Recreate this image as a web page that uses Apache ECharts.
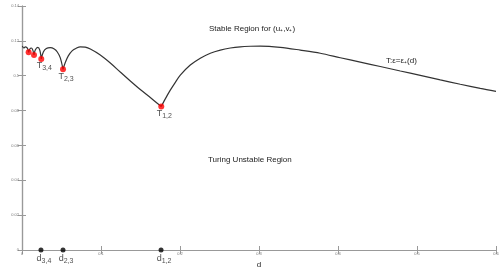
<!DOCTYPE html>
<html><head><meta charset="utf-8">
<script src="https://cdn.jsdelivr.net/npm/echarts@6/dist/echarts.min.js"></script>
<style>html,body{margin:0;padding:0;background:#fff}#c{width:503px;height:269px}</style>
</head><body><div id="c"></div>
<script>
// Curve T: eps = eps*(d)
const curveD = [0.0004,0.0023,0.0042,0.0061,0.0073,0.0084,0.0099,0.0118,0.0137,0.0152,0.0168,0.0200,0.0225,0.0244,
  0.0270,0.0308,0.0358,0.0409,0.0447,0.0485,0.0519,
  0.0548,0.0586,0.0637,0.0687,0.0738,0.0801,0.0865,0.0991,0.1118,0.1244,0.1371,0.1497,0.1624,0.1763,
  0.1814,0.1877,0.1941,0.2004,0.2130,0.2257,0.2384,0.2510,0.2637,0.2763,0.2890,0.3016,0.3269,0.3523,0.3776,0.4029,
  0.4282,0.4535,0.4789,0.5042,0.5295,0.5548,0.5801,0.6000];
const curveE = [0.1170,0.1159,0.1165,0.1162,0.1153,0.1134,0.1153,0.1159,0.1147,0.1119,0.1148,0.1163,0.1147,0.1096,
  0.1136,0.1156,0.1161,0.1153,0.1136,0.1102,0.1037,
  0.1076,0.1114,0.1144,0.1158,0.1166,0.1164,0.1153,0.1119,0.1073,0.1021,0.0970,0.0921,0.0875,0.0823,
  0.0867,0.0917,0.0962,0.1003,0.1061,0.1100,0.1129,0.1147,0.1159,0.1166,0.1169,0.1170,0.1163,0.1147,0.1129,0.1103,
  0.1078,0.1053,0.1027,0.1002,0.0976,0.0951,0.0927,0.0910];
// Cusp points (red) and their labels
const cuspD = [0.0084,0.0152,0.0244,0.0519,0.1763];
const cuspE = [0.1134,0.1119,0.1096,0.1037,0.0823];
const cuspLabels = ['','','3,4','2,3','1,2'];
// Critical d values (black dots on axis)
const critD = [0.0240,0.0519,0.1760];
const critLabels = ['3,4','2,3','1,2'];
const xTicks = [0,0.1,0.2,0.3,0.4,0.5,0.6];
const yTicks = [0,0.02,0.04,0.06,0.08,0.1,0.12,0.14];

// build line data, breaking at cusps so each arc keeps a sharp cusp
const lineData = [];
curveD.forEach((d,i)=>{
  lineData.push([d,curveE[i]]);
  if (cuspD.includes(d) && i < curveD.length-1) { lineData.push([d,null]); lineData.push([d,curveE[i]]); }
});

const FONT = 'Liberation Sans';
const chart = echarts.init(document.getElementById('c'), null, {renderer:'canvas'});
const axisLine = {show:true, lineStyle:{color:'#999', width:1.2}};
const tickStyle = {show:true, inside:true, length:4, lineStyle:{color:'#999', width:1}};
const fmt = v => String(Math.round(v*100)/100);
const rich = {
  t:{fontFamily:FONT, fontSize:9, color:'#222', lineHeight:12},
  s:{fontFamily:FONT, fontSize:7, color:'#222', lineHeight:12, verticalAlign:'bottom', padding:[6,0,0,0]}
};
chart.setOption({
  animation:false,
  grid:{left:22, right:7, top:6, bottom:19, containLabel:false, outerBoundsMode:'none'},
  xAxis:[{type:'value', min:0, max:0.6, interval:0.1, position:'bottom',
      name:'d', nameLocation:'middle', nameGap:8,
      nameTextStyle:{fontFamily:FONT, fontSize:8, color:'#222'},
      axisLine:axisLine, axisTick:tickStyle, splitLine:{show:false},
      axisLabel:{fontFamily:FONT, fontSize:4, color:'#777', margin:2,
        formatter:v=>xTicks.includes(Math.round(v*10)/10)?fmt(v):''}},
    {type:'value', min:0, max:0.6, interval:0.1, position:'top',
      axisLine:axisLine, axisTick:tickStyle, splitLine:{show:false}, axisLabel:{show:false}}],
  yAxis:[{type:'value', min:0, max:0.14, interval:0.02, position:'left',
      name:'ε', nameLocation:'middle', nameGap:15, nameRotate:90,
      nameTextStyle:{fontFamily:FONT, fontSize:7, color:'#222'},
      axisLine:axisLine, axisTick:tickStyle, splitLine:{show:false},
      axisLabel:{fontFamily:FONT, fontSize:4, color:'#777', margin:3,
        formatter:v=>yTicks.some(t=>Math.abs(t-v)<1e-9)?fmt(v):''}},
    {type:'value', min:0, max:0.14, interval:0.02, position:'right',
      axisLine:axisLine, axisTick:tickStyle, splitLine:{show:false}, axisLabel:{show:false}}],
  series:[
    {type:'line', data:lineData, showSymbol:false, smooth:0.3, connectNulls:false,
      lineStyle:{color:'#333', width:1.2}, z:2},
    {type:'scatter', data:cuspD.map((d,i)=>[d,cuspE[i]]), symbolSize:6, itemStyle:{color:'#ff0000'}, z:3,
      label:{show:true, position:'bottom', distance:0, offset:[3,-2],
        formatter:p=>cuspLabels[p.dataIndex]?('{t|T}{s|'+cuspLabels[p.dataIndex]+'}'):'', rich:rich}},
    {type:'scatter', data:critD.map(d=>[d,0]), symbolSize:5, itemStyle:{color:'#000'}, z:3, clip:false,
      label:{show:true, position:'bottom', distance:0, offset:[3,0],
        formatter:p=>'{t|d}{s|'+critLabels[p.dataIndex]+'}', rich:rich}}
  ],
  graphic:[
    {type:'text', left:209, top:25, style:{text:'Stable Region for (u\u208A,v\u208A)', font:'8px "Liberation Sans"', fill:'#222'}},
    {type:'text', left:208, top:156, style:{text:'Turing Unstable Region', font:'8px "Liberation Sans"', fill:'#222'}},
    {type:'text', left:386, top:57, style:{text:'T:ε=ε\u208A(d)', font:'8px "Liberation Sans"', fill:'#222'}}
  ]
});
</script></body></html>
